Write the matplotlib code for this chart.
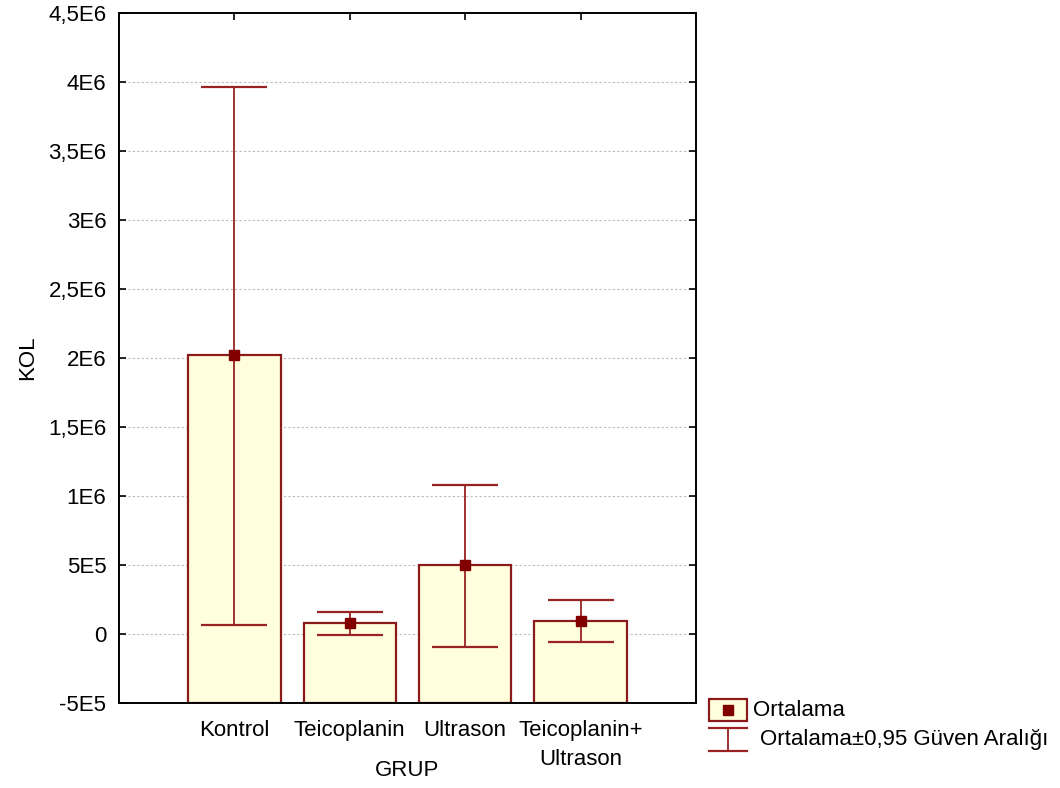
import matplotlib
matplotlib.use("Agg")
import matplotlib.pyplot as plt
from matplotlib.patches import Rectangle
from matplotlib.lines import Line2D

plt.rcParams['font.family'] = ['Liberation Sans', 'DejaVu Sans']

categories = ["Kontrol", "Teicoplanin", "Ultrason", "Teicoplanin+\nUltrason"]
means = [2.02e6, 8.2e4, 5.0e5, 9.5e4]
upper = [3.965e6, 1.56e5, 1.08e6, 2.43e5]
lower = [6.2e4, -7e3, -9.6e4, -5.5e4]
yticks = [-5e5, 0, 5e5, 1e6, 1.5e6, 2e6, 2.5e6, 3e6, 3.5e6, 4e6, 4.5e6]
ytick_labels = ["-5E5", "0", "5E5", "1E6", "1,5E6", "2E6", "2,5E6", "3E6", "3,5E6", "4E6", "4,5E6"]

ymin, ymax = -5e5, 4.5e6
face = "#FFFFDD"
edge = "#8B1A1A"
mcol = "#800000"
FS = 16

fig = plt.figure(figsize=(10.6, 7.88), dpi=100)
W, H = 1060, 788
ax = fig.add_axes([119 / W, 1 - 703 / H, (696 - 119) / W, (703 - 13) / H])

x = [i + 1 for i in range(len(categories))]
ax.bar(x, [m - ymin for m in means], bottom=ymin, width=0.8,
       color=face, edgecolor=edge, linewidth=1.6, zorder=2)
yerr = [[m - l for m, l in zip(means, lower)], [u - m for m, u in zip(means, upper)]]
ax.errorbar(x, means, yerr=yerr, fmt='none', ecolor="#992222",
            elinewidth=1.3, capsize=23.7, capthick=1.6, zorder=3)
ax.plot(x, means, 's', color=mcol, markersize=7.5, zorder=4)

ax.set_xlim(0, 5)
ax.set_ylim(ymin, ymax)
ax.set_yticks(yticks)
ax.set_yticklabels(ytick_labels)
ax.set_xticks(x)
ax.set_xticklabels(categories, linespacing=1.5)
ax.yaxis.grid(True, linestyle=(0, (2, 2)), color="#BBBBBB", linewidth=0.8, zorder=0)
ax.set_axisbelow(True)
ax.tick_params(direction='in', length=5, width=1.2, top=True, right=True,
               labelsize=FS, colors='black')
ax.tick_params(axis='x', pad=12)
ax.tick_params(axis='y', pad=9)
for s in ax.spines.values():
    s.set_linewidth(1.4)
ax.set_xlabel("GRUP", fontsize=FS, va='center')
ax.xaxis.set_label_coords(0.5, -(770 - 703) / 690)
ax.set_ylabel("KOL", fontsize=FS, va='center')
ax.yaxis.set_label_coords(-(119 - 28) / 577, 0.5)

# legend
def fx(px):
    return px / W

def fy(py):
    return 1 - py / H

fig.patches.append(Rectangle((fx(709), fy(721)), (747 - 709) / W, (721 - 699) / H,
                             transform=fig.transFigure, facecolor=face,
                             edgecolor=edge, linewidth=1.6))
fig.lines.append(Line2D([fx(728)], [fy(710)], marker='s', color=mcol,
                        markersize=7, transform=fig.transFigure))
fig.text(fx(753), fy(711), "Ortalama", fontsize=FS, va='center', ha='left')
ec = "#992222"
fig.lines.append(Line2D([fx(709), fx(747)], [fy(728), fy(728)], color=ec, lw=1.6,
                        transform=fig.transFigure))
fig.lines.append(Line2D([fx(709), fx(747)], [fy(751), fy(751)], color=ec, lw=1.6,
                        transform=fig.transFigure))
fig.lines.append(Line2D([fx(728), fx(728)], [fy(728), fy(751)], color=ec, lw=1.3,
                        transform=fig.transFigure))
fig.text(fx(760), fy(740), "Ortalama±0,95 Güven Aralığı", fontsize=FS,
         va='center', ha='left')

fig.savefig("out.png", dpi=100)
